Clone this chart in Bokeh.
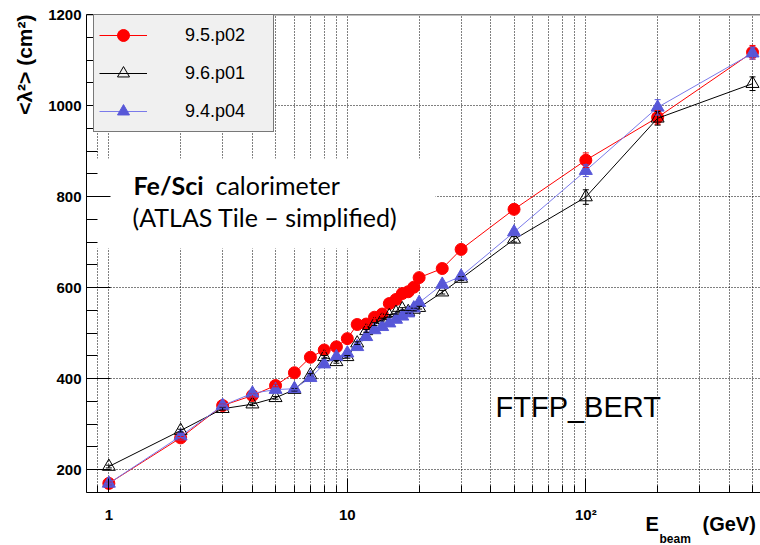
from bokeh.plotting import figure
from bokeh.models import (ColumnDataSource, FixedTicker, Legend, LegendItem, Label,
                          Span, Whisker, TeeHead, Title, BoxAnnotation)
from bokeh.embed import file_html
from bokeh.resources import INLINE

# Beam energies (GeV)
energy = [1, 2, 3, 4, 5, 6, 7, 8, 9, 10, 11, 12, 13, 14, 15, 16, 17, 18, 19, 20,
          25, 30, 50, 100, 200, 500]

# <lambda^2> (cm^2) per Geant4 version
lam2_p02 = [170, 270, 341, 363, 385, 413, 447, 463, 470, 488, 519, 520, 535, 542,
            565, 574, 587, 591, 601, 622, 642, 684, 772, 880, 974, 1117]
lam2_p01 = [207, 286, 334, 344, 358, 376, 408, 448, 437, 448, 478, 505, 520, 530,
            538, 545, 553, 547, 552, 556, 590, 620, 706, 799, 972, 1048]
lam2_p04 = [170, 274, 341, 368, 376, 378, 402, 432, 448, 456, 470, 492, 507, 514,
            522, 530, 537, 544, 555, 567, 607, 625, 722, 857, 996, 1115]

# statistical errors
err_p02 = [3, 3, 3, 3, 3, 3, 3, 3, 3, 3, 3, 3, 3, 3, 3, 3, 3, 3, 3, 3, 4, 4, 6, 16, 15, 15]
err_p01 = [3, 3, 3, 3, 3, 3, 3, 3, 3, 3, 3, 3, 3, 3, 3, 3, 3, 3, 3, 3, 4, 4, 6, 16, 15, 15]
err_p04 = [3, 3, 3, 3, 3, 3, 3, 3, 3, 3, 3, 3, 3, 3, 3, 3, 3, 3, 3, 3, 4, 4, 6, 13, 17, 13]

series_names = ["9.5.p02", "9.6.p01", "9.4.p04"]

x_major = [1, 10, 100]
x_major_labels = ["1", "10", "10\u00b2"]
x_minor = [0.9, 2, 3, 4, 5, 6, 7, 8, 9, 20, 30, 40, 50, 60, 70, 80, 90, 200, 300, 400, 500]
y_major = [200, 400, 600, 800, 1000, 1200]
Y_LO, Y_HI = 150, 1200

TICK_FONT = "Liberation Sans"
W, H = 760, 545
LEFT, TOP = 86, 14
AXIS_PX = 478          # pixel height of the drawn y axis (Y_LO..Y_HI)
BELOW = H - TOP - AXIS_PX   # room under the x axis for tick labels and title

# The frame runs down to the bottom of the canvas; the x axis sits at Y_LO.
units_per_px = (Y_HI - Y_LO) / AXIS_PX
p = figure(width=W, height=H, x_axis_type="log", x_range=(0.806, 540),
           y_range=(Y_LO - BELOW * units_per_px, Y_HI),
           output_backend="svg", toolbar_location=None,
           min_border_left=LEFT, min_border_right=0, min_border_top=TOP, min_border_bottom=0)
p.outline_line_color = None
p.background_fill_color = "white"
p.border_fill_color = "white"

# axes
for ax in (p.xaxis[0], p.yaxis[0]):
    ax.axis_line_color = "black"
    ax.axis_line_width = 1
    ax.major_tick_line_color = "black"
    ax.minor_tick_line_color = "black"
    ax.major_tick_out = 0
    ax.minor_tick_out = 0
    ax.major_label_text_font = TICK_FONT
    ax.major_label_text_font_style = "bold"
    ax.major_label_text_font_size = "15px"
    ax.major_label_text_color = "black"

p.xaxis.fixed_location = Y_LO
p.xaxis.ticker = FixedTicker(ticks=x_major, minor_ticks=x_minor)
p.xaxis.major_label_overrides = dict(zip(x_major, x_major_labels))
p.xaxis.major_tick_in = 14
p.xaxis.minor_tick_in = 7
p.xaxis.major_label_standoff = 13

y_minor = [v for v in range(Y_LO, Y_HI + 1, 50) if v not in y_major]
p.yaxis.ticker = FixedTicker(ticks=y_major, minor_ticks=y_minor)
p.yaxis.bounds = (Y_LO, Y_HI)
p.yaxis.major_tick_in = 24
p.yaxis.minor_tick_in = 11
p.yaxis.major_label_standoff = 5

# dotted grid
p.xgrid.grid_line_color = "black"
p.xgrid.grid_line_dash = "1 2"
p.xgrid.grid_line_width = 1
p.xgrid.minor_grid_line_color = "black"
p.xgrid.minor_grid_line_dash = "1 2"
p.xgrid.minor_grid_line_width = 1
p.ygrid.grid_line_color = "black"
p.ygrid.grid_line_dash = "1 2"
p.ygrid.grid_line_width = 1

# blank strip under the x axis (hides grid below the plot floor)
p.add_layout(BoxAnnotation(top=Y_LO, fill_color="white", fill_alpha=1, line_color=None,
                           level="underlay"))

# top frame edge
p.add_layout(Span(location=Y_HI, dimension="width", line_color="black", line_width=1.5))

# white pad behind the detector description
p.add_layout(BoxAnnotation(left=2, right=349, top=BELOW + 334, bottom=BELOW + 244,
                           left_units="screen", right_units="screen",
                           top_units="screen", bottom_units="screen",
                           fill_color="white", fill_alpha=1, line_color=None, level="underlay"))

styles = [
    dict(vals=lam2_p02, err=err_p02, line="#ff0000", marker="circle", fill="#ff0000", mline="#ff0000", size=12),
    dict(vals=lam2_p01, err=err_p01, line="#000000", marker="triangle", fill=None, mline="#000000", size=13),
    dict(vals=lam2_p04, err=err_p04, line="#7a7aea", marker="triangle", fill="#5858d8", mline="#5858d8", size=13),
]

items = []
for name, st in zip(series_names, styles):
    src = ColumnDataSource(dict(
        x=energy, y=st["vals"],
        lo=[v - e for v, e in zip(st["vals"], st["err"])],
        hi=[v + e for v, e in zip(st["vals"], st["err"])],
    ))
    p.add_layout(Whisker(source=src, base="x", lower="lo", upper="hi", dimension="height",
                         line_color=st["mline"], line_width=1, level="glyph",
                         upper_head=TeeHead(size=6, line_color=st["mline"], line_width=1),
                         lower_head=TeeHead(size=6, line_color=st["mline"], line_width=1)))
    ln = p.line("x", "y", source=src, line_color=st["line"], line_width=1)
    mk = p.scatter("x", "y", source=src, marker=st["marker"], size=st["size"],
                   fill_color=st["fill"], line_color=st["mline"], line_width=1)
    items.append(LegendItem(label=name, renderers=[ln, mk]))

legend = Legend(items=items, location=(7, BELOW + 360), margin=0, padding=5, spacing=8,
                glyph_width=48, glyph_height=30, label_height=30, label_width=83,
                label_standoff=38, background_fill_color="#f0f0f0", background_fill_alpha=1,
                border_line_color="black", border_line_width=1,
                label_text_font=TICK_FONT, label_text_font_size="18px", label_text_color="black")
p.add_layout(legend)

# text annotations (screen offsets from the frame's lower-left corner)
def add_label(text, x, y, font, size, style="normal"):
    p.add_layout(Label(x=x, y=y, x_units="screen", y_units="screen", text=text,
                       text_font=font, text_font_size=size, text_font_style=style,
                       text_color="black", text_align="left", text_baseline="alphabetic"))

add_label("Fe/Sci", 47, 361, "Lato", "25px", "bold")
add_label("calorimeter", 129, 361, "Lato", "25px")
add_label("(ATLAS Tile \u2013 simplified)", 46, 329, "Lato", "25px")
add_label("FTFP_BERT", 409, 139, TICK_FONT, "29px")

# x axis title with subscript
add_label("E", 559, 22, TICK_FONT, "20px", "bold")
add_label("beam", 573, 7, TICK_FONT, "12px", "bold")
add_label("(GeV)", 616, 22, TICK_FONT, "20px", "bold")

# y axis title, top-aligned on the left side
p.add_layout(Title(text="<\u03bb\u00b2> (cm\u00b2)", align="right", text_font=TICK_FONT,
                   text_font_size="21px", text_font_style="bold", text_color="black",
                   standoff=20), "left")

open("out.html", "w").write(file_html(p, INLINE))
